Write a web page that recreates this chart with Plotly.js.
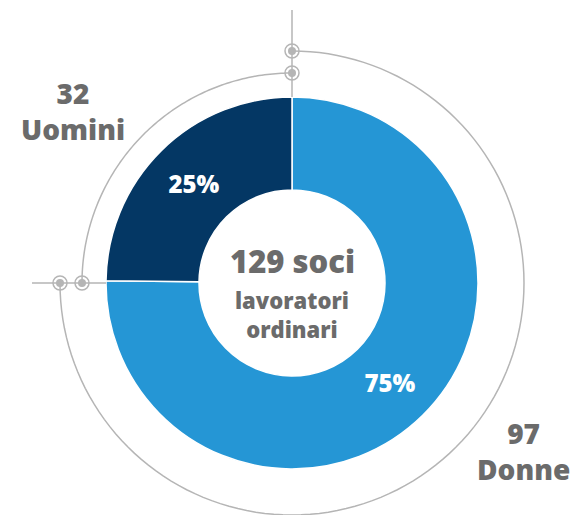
<!DOCTYPE html>
<html><head><meta charset="utf-8">
<script src="https://cdn.plot.ly/plotly-3.0.1.min.js"></script>
<style>html,body{margin:0;padding:0;background:#fff}#chart{width:576px;height:515px}</style>
</head><body><div id="chart"></div>
<script>
// Data
const categories = ["Donne", "Uomini"];
const counts = [97, 32];
const colors = ["#2596d5", "#043764"];
const totalLabel = "129 soci";
const subLabel = "lavoratori<br>ordinari";

const W = 576, H = 515;
const cx = 292, cy = 283, R = 186;
const px = x => x / W;
const py = y => 1 - y / H;
const gray = "#b5b5b5";
const textGray = "#6b6b6b";
const FONT = "'Open Sans', Lato, sans-serif";

function arcPath(r, a0, a1) {
  const n = 120;
  let d = "";
  for (let i = 0; i <= n; i++) {
    const a = (a0 + (a1 - a0) * i / n) * Math.PI / 180;
    const x = cx + r * Math.cos(a), y = cy + r * Math.sin(a);
    d += (i === 0 ? "M" : "L") + px(x).toFixed(5) + "," + py(y).toFixed(5);
  }
  return d;
}
function node(x, y) {
  return [
    {type: "circle", xref: "paper", yref: "paper", x0: px(x - 7), x1: px(x + 7), y0: py(y + 7), y1: py(y - 7),
     line: {color: gray, width: 1.5}, fillcolor: "rgba(255,255,255,0)"},
    {type: "circle", xref: "paper", yref: "paper", x0: px(x - 4), x1: px(x + 4), y0: py(y + 4), y1: py(y - 4),
     line: {width: 0}, fillcolor: gray}
  ];
}

const shapes = [
  {type: "path", xref: "paper", yref: "paper", path: arcPath(232, -90, 180), line: {color: gray, width: 1.5}},
  {type: "path", xref: "paper", yref: "paper", path: arcPath(210, 180, 270), line: {color: gray, width: 1.5}},
  {type: "line", xref: "paper", yref: "paper", x0: px(cx), x1: px(cx), y0: py(10), y1: py(cy - R), line: {color: gray, width: 1.5}},
  {type: "line", xref: "paper", yref: "paper", x0: px(32), x1: px(cx - R), y0: py(cy), y1: py(cy), line: {color: gray, width: 1.5}},
  ...node(cx, cy - 232), ...node(cx, cy - 210), ...node(cx - 232, cy), ...node(cx - 210, cy)
];

const trace = {
  type: "pie",
  labels: categories,
  values: counts,
  sort: false,
  direction: "clockwise",
  rotation: 0,
  hole: 0.5,
  marker: {colors: colors, line: {color: "#ffffff", width: 1.5}},
  texttemplate: "%{percent:.0%}",
  textposition: "inside",
  insidetextorientation: "horizontal",
  textfont: {color: "#ffffff", size: 24, family: FONT, weight: 800},
  showlegend: false,
  hoverinfo: "label+value+percent",
  domain: {x: [px(cx - R), px(cx + R)], y: [py(cy + R), py(cy - R)]}
};

const annotations = [
  {xref: "paper", yref: "paper", x: px(cx), y: py(261), text: totalLabel, showarrow: false,
   font: {size: 31, color: textGray, family: FONT, weight: 800}, xanchor: "center", yanchor: "middle"},
  {xref: "paper", yref: "paper", x: px(cx), y: py(314), text: subLabel, showarrow: false,
   font: {size: 22, color: textGray, family: FONT, weight: 800}, xanchor: "center", yanchor: "middle"},
  {xref: "paper", yref: "paper", x: px(73), y: py(111), text: counts[1] + "<br>" + categories[1], showarrow: false,
   font: {size: 28, color: textGray, family: FONT, weight: 800}, xanchor: "center", yanchor: "middle", align: "center"},
  {xref: "paper", yref: "paper", x: px(523), y: py(451), text: counts[0] + "<br>" + categories[0], showarrow: false,
   font: {size: 28, color: textGray, family: FONT, weight: 800}, xanchor: "center", yanchor: "middle", align: "center"}
];

Plotly.newPlot("chart", [trace], {
  width: W, height: H,
  margin: {l: 0, r: 0, t: 0, b: 0},
  paper_bgcolor: "#ffffff",
  plot_bgcolor: "#ffffff",
  shapes: shapes,
  annotations: annotations
}, {displayModeBar: false, staticPlot: true});
</script>
</body></html>
